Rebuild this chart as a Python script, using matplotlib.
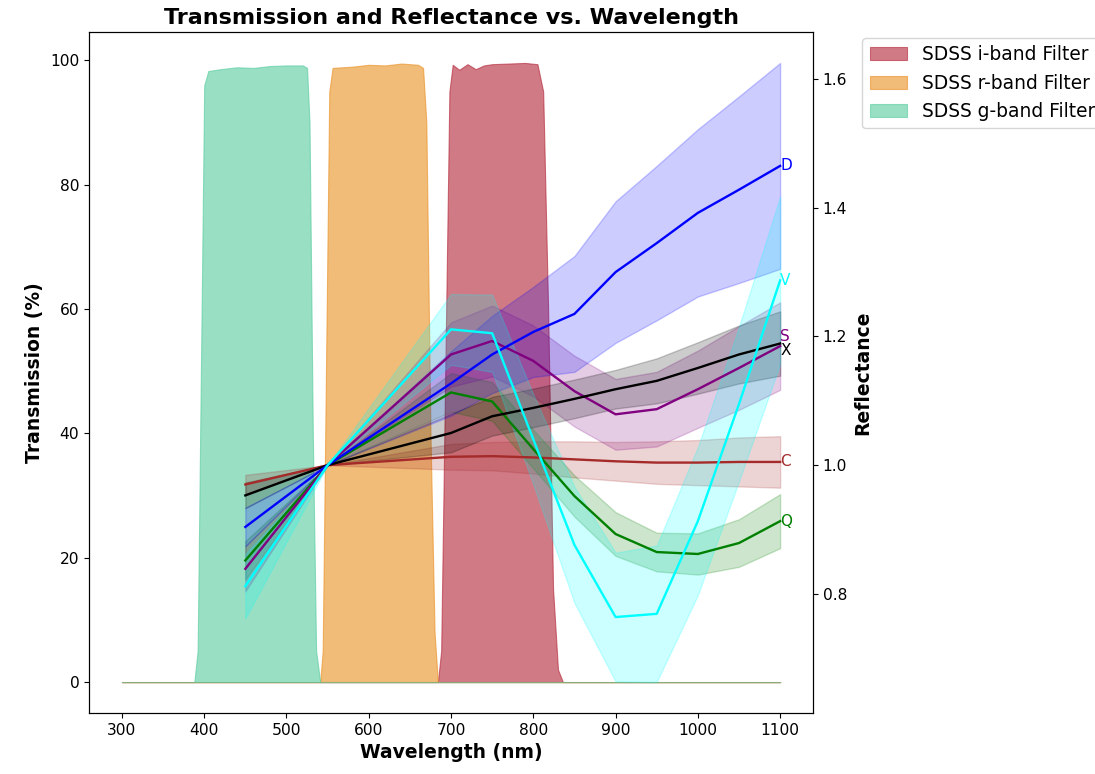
import matplotlib.pyplot as plt

# SDSS filter transmission curves (%)
g_wl = [300, 388, 392, 396, 400, 405, 420, 440, 460, 480, 500, 520, 525, 528, 532, 536, 541, 1100]
g_tr = [0, 0, 5, 50, 96, 98.3, 98.6, 98.9, 98.8, 99.1, 99.2, 99.2, 98.8, 90, 40, 5, 0, 0]

r_wl = [300, 541, 544, 548, 552, 556, 580, 600, 620, 640, 660, 666, 670, 675, 680, 684, 1100]
r_tr = [0, 0, 5, 50, 95, 98.8, 99.0, 99.3, 99.2, 99.5, 99.3, 98.8, 90, 40, 8, 0, 0]

i_wl = [300, 684, 688, 693, 698, 702, 710, 720, 730, 740, 750, 770, 790, 805, 812, 818, 824, 830, 836, 1100]
i_tr = [0, 0, 5, 50, 95, 99.3, 98.5, 99.4, 98.6, 99.2, 99.4, 99.5, 99.6, 99.4, 95, 60, 15, 2, 0, 0]

# reflectance spectra normalised at 550 nm (mean and spread)
wl = [450, 550, 700, 750, 800, 850, 900, 950, 1000, 1050, 1100]

c_mean = [0.970, 1.0, 1.013, 1.014, 1.012, 1.009, 1.006, 1.004, 1.004, 1.005, 1.005]
c_sd = [0.015, 0, 0.02, 0.022, 0.025, 0.028, 0.03, 0.033, 0.035, 0.038, 0.04]

q_mean = [0.852, 1.0, 1.113, 1.099, 1.025, 0.952, 0.893, 0.865, 0.862, 0.879, 0.913]
q_sd = [0.03, 0, 0.03, 0.03, 0.03, 0.032, 0.034, 0.03, 0.032, 0.037, 0.042]

s_mean = [0.839, 1.0, 1.172, 1.193, 1.162, 1.115, 1.079, 1.087, 1.118, 1.151, 1.185]
s_sd = [0.035, 0, 0.05, 0.055, 0.055, 0.055, 0.055, 0.058, 0.06, 0.065, 0.068]

x_mean = [0.953, 1.0, 1.05, 1.076, 1.089, 1.103, 1.118, 1.131, 1.151, 1.172, 1.189]
x_sd = [0.02, 0, 0.03, 0.03, 0.03, 0.03, 0.03, 0.035, 0.04, 0.045, 0.05]

d_mean = [0.904, 1.0, 1.127, 1.172, 1.207, 1.235, 1.30, 1.345, 1.392, 1.428, 1.465]
d_sd = [0.03, 0, 0.05, 0.06, 0.07, 0.09, 0.11, 0.12, 0.13, 0.145, 0.16]

v_mean = [0.812, 1.0, 1.211, 1.205, 1.04, 0.876, 0.764, 0.769, 0.913, 1.095, 1.287]
v_sd = [0.05, 0, 0.055, 0.06, 0.07, 0.09, 0.10, 0.106, 0.115, 0.12, 0.13]

fig, ax1 = plt.subplots(figsize=(10.95, 7.74), dpi=100)
fig.subplots_adjust(left=0.0813, right=0.7425, top=0.9587, bottom=0.0788)

ax1.fill_between(i_wl, i_tr, color='#b22134', alpha=0.6, lw=0.8, label='SDSS i-band Filter')
ax1.fill_between(r_wl, r_tr, color='#e98e1e', alpha=0.6, lw=0.8, label='SDSS r-band Filter')
ax1.fill_between(g_wl, g_tr, color='#53cb9d', alpha=0.6, lw=0.8, label='SDSS g-band Filter')
ax1.set_xlabel('Wavelength (nm)', fontsize=13.5, fontweight='bold')
ax1.set_ylabel('Transmission (%)', fontsize=13.5, fontweight='bold')
ax1.set_title('Transmission and Reflectance vs. Wavelength', fontsize=16, fontweight='bold')
ax1.tick_params(labelsize=11.2)
ax1.legend(loc='upper left', bbox_to_anchor=(1.055, 1.005), fontsize=13.4)

ax2 = ax1.twinx()
series = [
    ('C', c_mean, c_sd, 'brown', 0),
    ('Q', q_mean, q_sd, 'green', 0),
    ('S', s_mean, s_sd, 'purple', 7),
    ('X', x_mean, x_sd, 'black', -5),
    ('D', d_mean, d_sd, 'blue', 0),
    ('V', v_mean, v_sd, 'cyan', 0),
]
for name, mean, sd, color, dy in series:
    lo = [m - s for m, s in zip(mean, sd)]
    hi = [m + s for m, s in zip(mean, sd)]
    ax2.fill_between(wl, lo, hi, color=color, alpha=0.2)
    ax2.plot(wl, mean, color=color, lw=1.7)
    ax2.annotate(name, (wl[-1], mean[-1]), xytext=(0, dy), textcoords='offset points',
                 color=color, fontsize=11, ha='left', va='center')
ax2.set_ylabel('Reflectance', fontsize=13.5, fontweight='bold')
ax2.tick_params(labelsize=11.2)

plt.savefig('out.png')
